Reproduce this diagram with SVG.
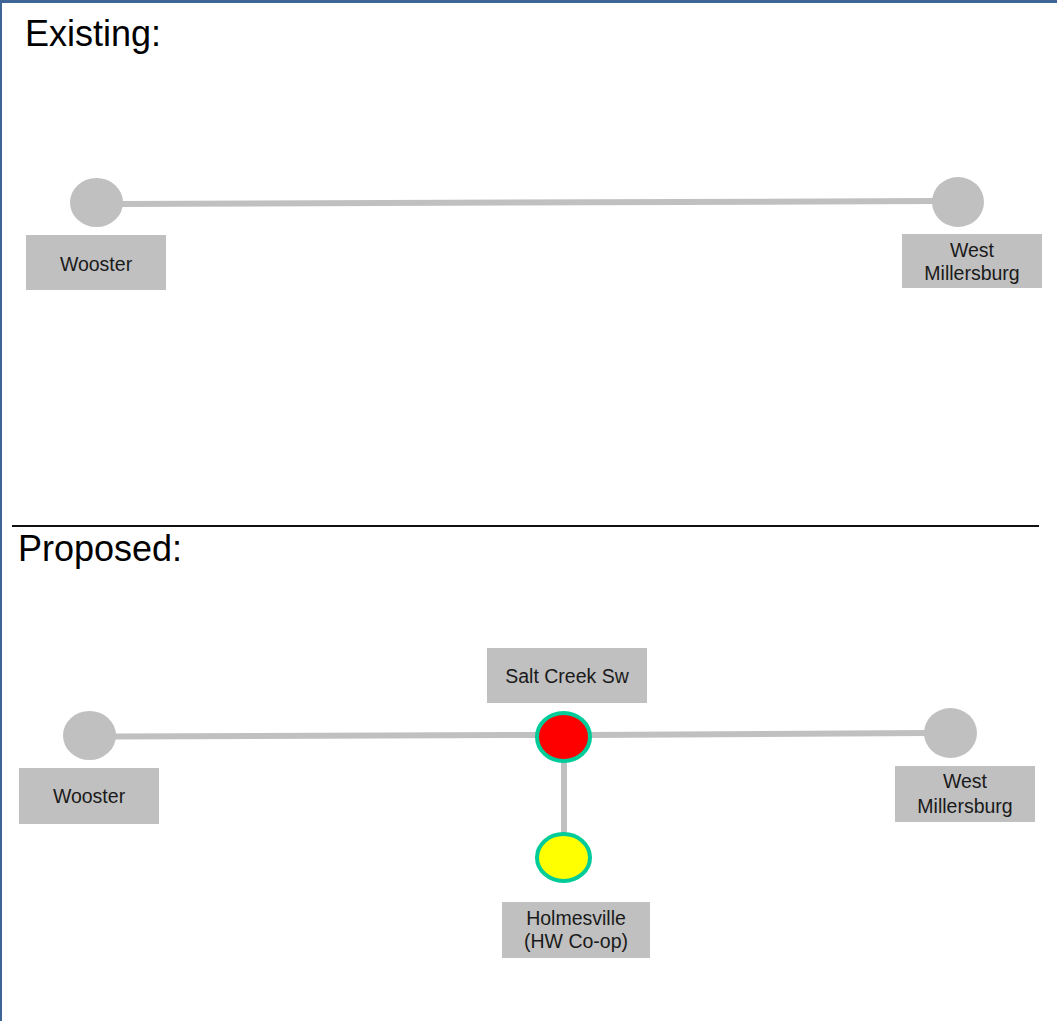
<svg xmlns="http://www.w3.org/2000/svg" width="1057" height="1021" viewBox="0 0 1057 1021">
<style>
.title{font-family:"Liberation Sans",Arial,sans-serif;font-size:36px;fill:#000}
.lbl{font-family:"Liberation Sans",Arial,sans-serif;font-size:19.5px;fill:#1a1a1a;text-anchor:middle}
.box{fill:#c0c0c0}
.bus{fill:#c0c0c0}
.conn{stroke:#c0c0c0;stroke-width:6;fill:none}
.new{stroke:#00cc99;stroke-width:4}
</style>
<rect x="0" y="0" width="1057" height="1021" fill="#fff"/>
<rect x="0" y="0" width="1057" height="3" fill="#3f6596"/>
<rect x="0" y="0" width="2" height="1021" fill="#3f6596"/>
<line x1="12" y1="526" x2="1039" y2="526" stroke="#111" stroke-width="2"/>
<text class="title" x="25" y="46">Existing:</text>
<text class="title" x="18" y="561">Proposed:</text>
<g id="connectors">
<line class="conn" x1="120" y1="204" x2="935" y2="201"/>
<line class="conn" x1="113" y1="736.5" x2="540" y2="735"/>
<line class="conn" x1="588" y1="735" x2="927" y2="733"/>
<line class="conn" x1="564" y1="762" x2="564" y2="833"/>
</g>
<g id="ex-wooster">
<ellipse class="bus" cx="96.5" cy="202.5" rx="26.5" ry="24.5"/>
<rect class="box" x="26" y="235" width="140" height="55"/>
<text class="lbl" x="96" y="271">Wooster</text>
</g>
<g id="ex-westmillersburg">
<ellipse class="bus" cx="958" cy="202" rx="26" ry="25"/>
<rect class="box" x="902" y="234" width="140" height="54"/>
<text class="lbl" x="972" y="257">West</text>
<text class="lbl" x="972" y="280">Millersburg</text>
</g>
<g id="pr-wooster">
<ellipse class="bus" cx="89.5" cy="735.5" rx="26.5" ry="24.5"/>
<rect class="box" x="19" y="768" width="140" height="56"/>
<text class="lbl" x="89" y="803">Wooster</text>
</g>
<g id="pr-westmillersburg">
<ellipse class="bus" cx="950.5" cy="733" rx="26.5" ry="25"/>
<rect class="box" x="895" y="766" width="140" height="56"/>
<text class="lbl" x="965" y="788">West</text>
<text class="lbl" x="965" y="813">Millersburg</text>
</g>
<g id="pr-saltcreek">
<rect class="box" x="487" y="648" width="160" height="55"/>
<text class="lbl" x="567" y="683">Salt Creek Sw</text>
<ellipse class="new" cx="563.5" cy="737" rx="26.5" ry="24" fill="#ff0000"/>
</g>
<g id="pr-holmesville">
<ellipse class="new" cx="563.5" cy="857.5" rx="26.5" ry="23.5" fill="#ffff00"/>
<rect class="box" x="502" y="902" width="148" height="56"/>
<text class="lbl" x="576" y="925">Holmesville</text>
<text class="lbl" x="576" y="948">(HW Co-op)</text>
</g>
</svg>
